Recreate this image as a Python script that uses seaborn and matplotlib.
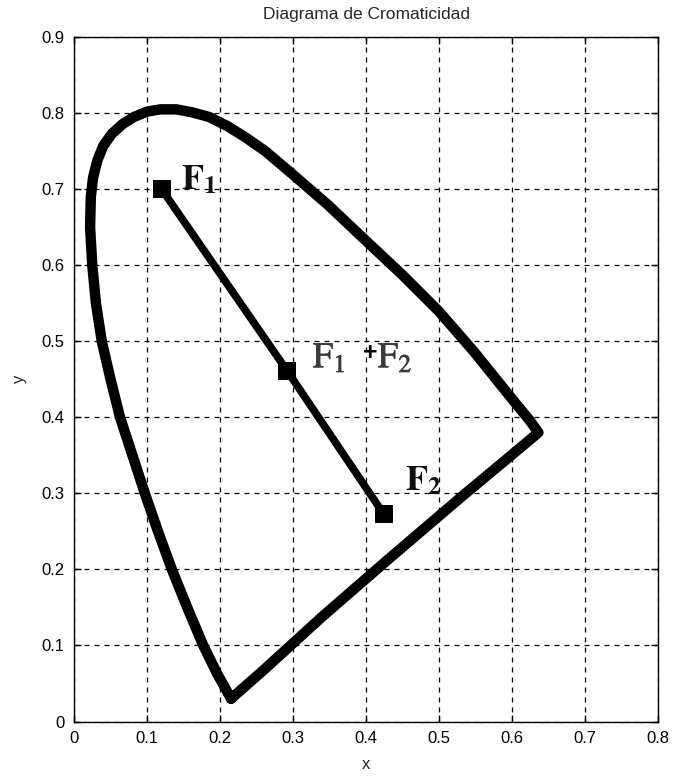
import matplotlib
matplotlib.use("Agg")
import matplotlib.pyplot as plt
import matplotlib.patheffects as pe
import seaborn as sns
import pandas as pd

# Spectral locus outline (chromaticity coordinates), traced as one closed path
locus_x = [0.215, 0.196, 0.177, 0.155, 0.134, 0.115, 0.097, 0.080, 0.063, 0.050,
           0.038, 0.030, 0.025, 0.022, 0.023, 0.026, 0.032, 0.040, 0.052, 0.067,
           0.082, 0.100, 0.118, 0.140, 0.162, 0.185, 0.210, 0.235, 0.262, 0.300,
           0.347, 0.400, 0.450, 0.500, 0.548, 0.600, 0.624, 0.636, 0.605, 0.530,
           0.430, 0.340, 0.260, 0.215]
locus_y = [0.030, 0.063, 0.100, 0.150, 0.200, 0.250, 0.300, 0.350, 0.400, 0.450,
           0.500, 0.550, 0.600, 0.650, 0.690, 0.715, 0.738, 0.757, 0.773, 0.786,
           0.795, 0.802, 0.805, 0.805, 0.801, 0.795, 0.783, 0.768, 0.750, 0.719,
           0.680, 0.632, 0.587, 0.539, 0.486, 0.424, 0.396, 0.380, 0.355, 0.295,
           0.213, 0.138, 0.068, 0.030]

# Two sources and their mixture
mix_names = ["F1", "F1+F2", "F2"]
mix_x = [0.120, 0.292, 0.424]
mix_y = [0.700, 0.461, 0.273]

locus = pd.DataFrame({"x": locus_x, "y": locus_y})
mix = pd.DataFrame({"x": mix_x, "y": mix_y, "name": mix_names})

sns.set_style("white")
plt.rcParams["font.family"] = ["Liberation Sans", "DejaVu Sans"]
plt.rcParams["mathtext.fontset"] = "stix"

fig = plt.figure(figsize=(6.73, 7.76), dpi=100)
ax = fig.add_axes([0.110, 0.0702, 0.868, 0.882])

sns.lineplot(data=locus, x="x", y="y", sort=False, estimator=None,
             color="black", linewidth=7.5, ax=ax, solid_joinstyle="round",
             solid_capstyle="round")
sns.lineplot(data=mix, x="x", y="y", sort=False, estimator=None,
             color="black", linewidth=5.5, ax=ax)
sns.scatterplot(data=mix, x="x", y="y", marker="s", s=160, color="black",
                edgecolor="black", linewidth=0, ax=ax, zorder=5)

medium = [pe.withStroke(linewidth=0.5, foreground="#3a3a3a")]
ax.text(0.147, 0.712, r"$\mathbf{F}_{\mathbf{1}}$", fontsize=26, color="#111111",
        ha="left", va="center")
ax.text(0.327, 0.478, r"$\mathrm{F}_{1}$", fontsize=26, color="#3a3a3a",
        ha="left", va="center", path_effects=medium)
ax.text(0.406, 0.484, "+", fontsize=18, fontweight="bold", color="black",
        ha="center", va="center")
ax.text(0.416, 0.478, r"$\mathrm{F}_{2}$", fontsize=26, color="#3a3a3a",
        ha="left", va="center", path_effects=medium)
ax.text(0.453, 0.317, r"$\mathbf{F}_{\mathbf{2}}$", fontsize=26, color="#111111",
        ha="left", va="center")

ax.set_xlim(0, 0.8)
ax.set_ylim(0, 0.9)
xt = [0, 0.1, 0.2, 0.3, 0.4, 0.5, 0.6, 0.7, 0.8]
yt = [0, 0.1, 0.2, 0.3, 0.4, 0.5, 0.6, 0.7, 0.8, 0.9]
ax.set_xticks(xt)
ax.set_yticks(yt)
ax.set_xticklabels(["0", "0.1", "0.2", "0.3", "0.4", "0.5", "0.6", "0.7", "0.8"])
ax.set_yticklabels(["0", "0.1", "0.2", "0.3", "0.4", "0.5", "0.6", "0.7", "0.8", "0.9"])
ax.tick_params(direction="in", length=5, width=1, colors="black", labelsize=12,
               top=True, right=True, bottom=True, left=True, pad=7)
ax.grid(True, linestyle=(0, (4, 4)), color="black", linewidth=0.9)
for s in ax.spines.values():
    s.set_visible(True)
    s.set_color("black")
    s.set_linewidth(1.0)

ax.set_xlabel("x", fontsize=12, labelpad=8)
ax.set_ylabel("y", fontsize=12, labelpad=10)
ax.set_title("Diagrama de Cromaticidad", fontsize=12.5, pad=13)

fig.savefig("out.png", dpi=100)
